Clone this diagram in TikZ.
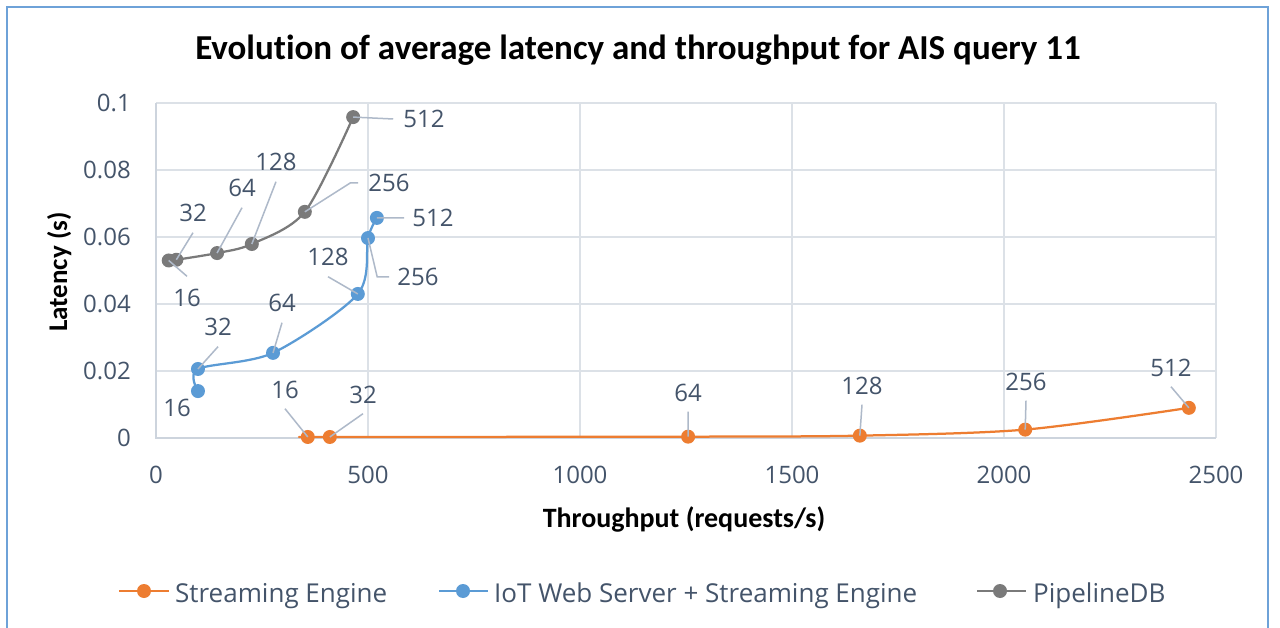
\documentclass[tikz,border=0pt]{standalone}
\usepackage{fontspec}
\setmainfont{Carlito}[Ligatures=NoCommon]
\newfontfamily\labelfont{Open Sans}
\definecolor{seOrange}{HTML}{ED7D31}
\definecolor{iotBlue}{HTML}{5B9BD5}
\definecolor{pdbGray}{HTML}{7A7A7A}
\definecolor{gridGray}{HTML}{DCE1E7}
\definecolor{axisGray}{HTML}{CDD4DD}
\definecolor{labelInk}{HTML}{44546A}
\definecolor{leaderInk}{HTML}{AEB9C9}
\definecolor{frameBlue}{HTML}{6EA2D8}
\begin{document}
\begin{tikzpicture}[x=1pt,y=-1pt,
  gridline/.style={draw=gridGray, line width=1.5pt},
  axisline/.style={draw=axisGray, line width=1.5pt},
  ticklabel/.style={font=\labelfont\fontsize{24}{24}\selectfont, text=labelInk, inner sep=0pt},
  datalabel/.style={font=\labelfont\fontsize{24}{24}\selectfont, text=labelInk, inner sep=0pt, text height=17pt, text depth=0pt},
  legendtext/.style={font=\labelfont\fontsize{26}{26}\selectfont, text=labelInk, inner sep=0pt, anchor=base west},
  leader/.style={draw=leaderInk, line width=1.5pt},
  series/.style={line width=2.25pt, line join=round, line cap=round},
  axistitle/.style={font=\bfseries\fontsize{28}{28}\selectfont, inner sep=0pt, anchor=base}]

\useasboundingbox (0,0) rectangle (1280,628);
\fill[white] (0,0) rectangle (1280,628);

% chart frame (open at the bottom edge)
\draw[draw=frameBlue, line width=2pt] (7,660) -- (7,7) -- (1268,7) -- (1268,660);

% title
\node[font=\bfseries\fontsize{35}{35}\selectfont, inner sep=0pt, anchor=base] (title) at (638,60)
  {Evolution of average latency and throughput for AIS query 11};

% plot area in data units: throughput (requests/s) vs latency (s)
\begin{scope}[shift={(156,438)}, x=0.424pt, y=3350pt]
  \foreach \v in {0.02,0.04,0.06,0.08,0.1}
    \draw[gridline] (0,\v) -- (2500,\v);
  \foreach \u in {500,1000,...,2500}
    \draw[gridline] (\u,0) -- (\u,0.1);
  \draw[axisline] (0,0.1) -- (0,0) -- (2500,0);

  \foreach \v/\t [count=\i] in {0/0,0.02/0.02,0.04/0.04,0.06/0.06,0.08/0.08,0.1/0.1}
    \node[ticklabel, anchor=east, xshift=-25pt] (ytick\i) at (0,\v) {\t};
  \foreach \u [count=\i] in {0,500,1000,1500,2000,2500}
    \node[ticklabel, yshift=-37pt] (xtick\i) at (\u,0) {\u};

  % Streaming Engine
  \coordinate (se16)  at (358,0.0003);
  \coordinate (se32)  at (410,0.0003);
  \coordinate (se64)  at (1255,0.0004);
  \coordinate (se128) at (1660,0.0007);
  \coordinate (se256) at (2050,0.0025);
  \coordinate (se512) at (2436,0.0090);
  % IoT Web Server + Streaming Engine
  \coordinate (iot16)  at (99,0.0140);
  \coordinate (iot32)  at (99,0.0206);
  \coordinate (iot64)  at (276,0.0254);
  \coordinate (iot128) at (476,0.0430);
  \coordinate (iot256) at (500,0.0597);
  \coordinate (iot512) at (521,0.0657);
  % PipelineDB
  \coordinate (pdb16)  at (30,0.0530);
  \coordinate (pdb32)  at (48,0.0532);
  \coordinate (pdb64)  at (144,0.0552);
  \coordinate (pdb128) at (226,0.0579);
  \coordinate (pdb256) at (351,0.0675);
  \coordinate (pdb512) at (465,0.0958);
\end{scope}

% series curves
\draw[series, seOrange] plot[smooth, tension=0.5] coordinates {(se16) (se32) (se64) (se128) (se256) (se512)};
\draw[series, iotBlue] plot[smooth, tension=0.5] coordinates {(iot16) (iot32) (iot64) (iot128) (iot256) (iot512)};
\draw[series, pdbGray] plot[smooth, tension=0.5] coordinates {(pdb16) (pdb32) (pdb64) (pdb128) (pdb256) (pdb512)};

% markers
\foreach \p in {se16,se32,se64,se128,se256,se512}
  \fill[seOrange] (\p) circle[radius=7pt];
\foreach \p in {iot16,iot32,iot64,iot128,iot256,iot512}
  \fill[iotBlue] (\p) circle[radius=7pt];
\foreach \p in {pdb16,pdb32,pdb64,pdb128,pdb256,pdb512}
  \fill[pdbGray] (\p) circle[radius=7pt];

% data labels: PipelineDB
\node[datalabel] (lpdb512) at (424,119) {512};
\node[datalabel] (lpdb256) at (389,183) {256};
\node[datalabel] (lpdb128) at (276,162) {128};
\node[datalabel] (lpdb64)  at (242,188) {64};
\node[datalabel] (lpdb32)  at (193,213) {32};
\node[datalabel] (lpdb16)  at (187,298) {16};
\draw[leader] ([xshift=-10pt]lpdb512.west) -- (pdb512);
\draw[leader] ([xshift=-10pt]lpdb256.west) -- ++(-8,0) -- (pdb256);
\draw[leader] ([yshift=-11pt]lpdb128.south) -- (pdb128);
\draw[leader] ([yshift=-11pt]lpdb64.south) -- (pdb64);
\draw[leader] ([yshift=-11pt]lpdb32.south) -- (pdb32);
\draw[leader] ([yshift=13pt]lpdb16.north) -- (pdb16);

% data labels: IoT Web Server + Streaming Engine
\node[datalabel] (liot512) at (433,218) {512};
\node[datalabel] (liot256) at (418,277) {256};
\node[datalabel] (liot128) at (328,257) {128};
\node[datalabel] (liot64)  at (282,303) {64};
\node[datalabel] (liot32)  at (218,327) {32};
\node[datalabel] (liot16)  at (177,408) {16};
\draw[leader] ([xshift=-8pt]liot512.west) -- (iot512);
\draw[leader] ([xshift=-8pt]liot256.west) -- ++(-12,0) -- (iot256);
\draw[leader] ([yshift=-11pt]liot128.south) -- (iot128);
\draw[leader] ([yshift=-11pt]liot64.south) -- (iot64);
\draw[leader] ([yshift=-11pt]liot32.south) -- (iot32);

% data labels: Streaming Engine
\node[datalabel] (lse16)  at (285,390) {16};
\node[datalabel] (lse32)  at (363,395) {32};
\node[datalabel] (lse64)  at (688,393) {64};
\node[datalabel] (lse128) at (862,386) {128};
\node[datalabel] (lse256) at (1026,382) {256};
\node[datalabel] (lse512) at (1171,368) {512};
\foreach \p in {16,32,64,128,256,512}
  \draw[leader] ([yshift=-10pt]lse\p.south) -- (se\p);

% axis titles
\node[axistitle] (xtitle) at (684,527) {Throughput (requests/s)};
\node[axistitle, font=\bfseries\fontsize{27}{27}\selectfont, rotate=90] (ytitle) at (67,272) {Latency (s)};

% legend
\coordinate (lgSeA) at (119,591);  \coordinate (lgSeB) at (169,591);  \coordinate (lgSeM) at (144,591);
\coordinate (lgIotA) at (439,591); \coordinate (lgIotB) at (488,591); \coordinate (lgIotM) at (463,591);
\coordinate (lgPdbA) at (977,591); \coordinate (lgPdbB) at (1026,591); \coordinate (lgPdbM) at (1000,591);
\draw[series, seOrange, line cap=butt] (lgSeA) -- (lgSeB);
\fill[seOrange] (lgSeM) circle[radius=7pt];
\draw[series, iotBlue, line cap=butt] (lgIotA) -- (lgIotB);
\fill[iotBlue] (lgIotM) circle[radius=7pt];
\draw[series, pdbGray, line cap=butt] (lgPdbA) -- (lgPdbB);
\fill[pdbGray] (lgPdbM) circle[radius=7pt];
\node[legendtext] (lgSeText)  at (175,602) {Streaming Engine};
\node[legendtext] (lgIotText) at (494,602) {IoT Web Server + Streaming Engine};
\node[legendtext] (lgPdbText) at (1033,602) {PipelineDB};
\end{tikzpicture}
\end{document}
